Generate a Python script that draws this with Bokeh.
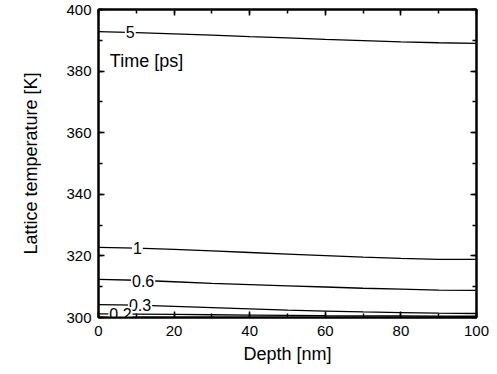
from bokeh.plotting import figure
from bokeh.models import LinearAxis, Range1d, SingleIntervalTicker, ColumnDataSource, CustomJSTickFormatter
from bokeh.core.properties import value
from bokeh.embed import file_html
from bokeh.resources import INLINE

depth = [0, 10, 20, 30, 40, 50, 60, 70, 80, 90, 100]
t5 = [392.8, 392.5, 392.1, 391.7, 391.2, 390.8, 390.3, 389.9, 389.5, 389.2, 389.0]
t1 = [322.8, 322.5, 322.1, 321.6, 321.1, 320.6, 320.1, 319.6, 319.2, 318.9, 318.9]
t06 = [312.4, 312.1, 311.6, 311.1, 310.7, 310.3, 309.9, 309.5, 309.2, 308.9, 308.8]
t03 = [304.2, 304.0, 303.6, 303.2, 302.8, 302.4, 302.1, 301.8, 301.6, 301.4, 301.3]
t02 = [301.2, 301.1, 301.0, 300.9, 300.8, 300.7, 300.6, 300.55, 300.5, 300.45, 300.4]
series = [t5, t1, t06, t03, t02]
label_text = ["5", "1", "0.6", "0.3", "0.2"]
label_x = [8.4, 10.3, 11.8, 11.0, 5.8]
x_ticks_major = 20
y_ticks_major = 20

FONT = "Liberation Sans"

p = figure(width=492, height=370, output_backend="svg", toolbar_location=None,
           x_range=Range1d(0, 100), y_range=Range1d(300, 400),
           min_border_left=98, min_border_right=16, min_border_top=9, min_border_bottom=53,
           background_fill_color="white", border_fill_color="white")
p.grid.visible = False
p.outline_line_color = "black"
p.outline_line_width = 2

for ys in series:
    p.line(depth, ys, line_color="black", line_width=1.3)

# inline labels with white background
lab_y = []
for lx, ys in zip(label_x, series):
    for i in range(len(depth) - 1):
        if depth[i] <= lx <= depth[i + 1]:
            f = (lx - depth[i]) / (depth[i + 1] - depth[i])
            lab_y.append(ys[i] + f * (ys[i + 1] - ys[i]))
            break
src = ColumnDataSource(dict(x=label_x, y=lab_y, t=label_text))
p.text(x="x", y="y", text="t", source=src, text_align="center", text_baseline="middle",
       text_font=value(FONT), text_font_size="16px", text_color="black",
       background_fill_color="white", padding=1)

p.text(x=[3.0], y=[383.3], text=["Time [ps]"], text_align="left", text_baseline="middle",
       text_font=value(FONT), text_font_size="18px", text_color="black")

xt = SingleIntervalTicker(interval=x_ticks_major, num_minor_ticks=2)
yt = SingleIntervalTicker(interval=y_ticks_major, num_minor_ticks=2)

def style(ax, ticker, show_labels):
    ax.ticker = ticker
    ax.axis_line_color = "black"
    ax.axis_line_width = 2
    ax.major_tick_in = 6
    ax.major_tick_out = 0
    ax.minor_tick_in = 4
    ax.minor_tick_out = 0
    ax.major_tick_line_width = 1.5
    ax.minor_tick_line_width = 1.5
    if show_labels:
        ax.major_label_text_font = FONT
        ax.major_label_text_font_size = "15px"
        ax.major_label_text_color = "black"
        ax.axis_label_text_font = FONT
        ax.axis_label_text_font_size = "18px"
        ax.axis_label_text_font_style = "normal"
        ax.axis_label_text_color = "black"
    else:
        ax.formatter = CustomJSTickFormatter(code="return ''")
        ax.major_label_standoff = 0

style(p.xaxis[0], xt, True)
style(p.yaxis[0], yt, True)
p.xaxis[0].axis_label = "Depth [nm]"
p.yaxis[0].axis_label = "Lattice temperature [K]"
p.xaxis[0].major_label_standoff = 8
p.yaxis[0].major_label_standoff = 7
p.xaxis[0].axis_label_standoff = 5
p.yaxis[0].axis_label_standoff = 22

top = LinearAxis()
right = LinearAxis()
style(top, SingleIntervalTicker(interval=x_ticks_major, num_minor_ticks=2), False)
style(right, SingleIntervalTicker(interval=y_ticks_major, num_minor_ticks=2), False)
p.add_layout(top, "above")
p.add_layout(right, "right")

open("out.html", "w").write(file_html(p, INLINE))
